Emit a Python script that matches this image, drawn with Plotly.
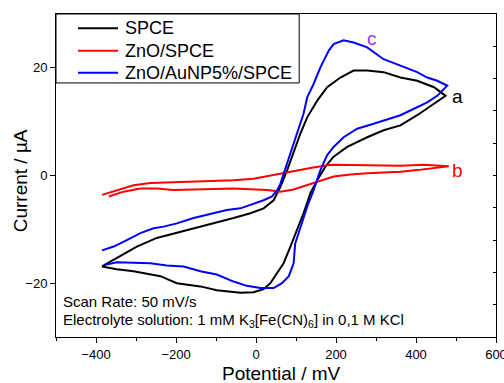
import plotly.graph_objects as go

# SPCE (a)
spce_x = [-385, -348, -306, -239, -198, -139, -98, -39, -6, 19, 36, 53, 69, 86, 103, 119, 136, 153, 173, 194, 228, 278, 319, 361, 403, 445, 474,
          445, 403, 361, 319, 278, 244, 211, 178, 153, 128, 111, 94, 78, 61, 44, 19, -14, -56, -123, -181, -248, -298, -348, -385]
spce_y = [-16.9, -17.4, -17.8, -18.7, -20.0, -20.6, -21.3, -21.8, -21.7, -21.1, -20.0, -18.1, -16.3, -13.2, -10.1, -7.0, -3.3, -0.9, 1.6, 3.5, 5.3, 7.1, 8.4, 9.3, 11.2, 13.3, 14.8,
          16.4, 17.6, 18.2, 19.2, 19.5, 19.5, 18.2, 16.4, 13.9, 10.8, 7.8, 4.1, 1.0, -2.1, -4.6, -6.1, -7.0, -7.9, -9.2, -10.4, -11.6, -13.2, -15.3, -16.9]

# ZnO/SPCE (b)
zno_x = [-385, -348, -306, -264, -181, -98, -56, -6, 44, 94, 136, 178, 194, 278, 361, 420, 482,
         403, 361, 278, 236, 194, 161, 128, 94, 61, 28, -56, -139, -206, -248, -289, -331, -368]
zno_y = [-3.6, -2.7, -1.8, -1.4, -1.2, -1.0, -0.9, -0.6, 0.1, 0.9, 1.4, 1.9, 2.0, 1.9, 1.8, 2.0, 1.7,
         1.0, 0.7, 0.4, 0.2, -0.2, -1.0, -1.8, -2.6, -3.0, -2.7, -2.4, -2.6, -2.7, -2.4, -2.4, -3.0, -3.9]

# ZnO/AuNP5%/SPCE (c)
au_x = [-377, -348, -264, -223, -181, -139, -98, -56, -23, 11, 44, 65, 82, 94, 98, 111, 128, 144, 161, 178, 194, 219, 253, 294, 319, 361, 395, 428, 453, 474, 478,
        453, 428, 403, 361, 319, 278, 244, 219, 194, 182, 161, 144, 128, 119, 103, 86, 73, 61, 53, 40, 19, -6, -39, -73, -106, -156, -198, -231, -256, -289, -323, -356, -385]
au_y = [-16.6, -16.1, -16.3, -16.7, -16.9, -17.8, -18.4, -19.7, -20.5, -20.9, -20.9, -20.0, -18.7, -16.3, -12.6, -9.5, -5.8, -2.7, 1.0, 3.8, 5.3, 7.1, 8.7, 9.6, 10.2, 11.2, 12.4, 13.6, 14.8, 16.3, 16.7,
        17.6, 18.2, 19.2, 20.4, 21.6, 23.8, 24.7, 25.1, 24.4, 23.2, 20.1, 17.0, 14.5, 11.5, 7.8, 4.1, 1.0, -1.5, -2.7, -3.9, -4.6, -5.2, -6.1, -6.4, -7.0, -7.9, -8.9, -9.5, -9.8, -10.7, -12.0, -13.2, -13.9]

series_names = ["SPCE", "ZnO/SPCE", "ZnO/AuNP5%/SPCE"]
series_colors = ["#000000", "#ff0000", "#0000ff"]

FONT = "Liberation Sans, Arial, sans-serif"

fig = go.Figure()
for name, xs, ys, col in zip(series_names, [spce_x, zno_x, au_x], [spce_y, zno_y, au_y], series_colors):
    fig.add_trace(go.Scatter(x=xs, y=ys, mode="lines", name=name,
                             line=dict(color=col, width=2), showlegend=False))

# right-side inner ticks
fig.add_trace(go.Scatter(x=[None], y=[None], yaxis="y2", showlegend=False, hoverinfo="skip"))

# custom legend (box, sample lines, labels) in paper coordinates
shapes = [dict(type="rect", xref="paper", yref="paper", x0=0, x1=0.5527, y0=0.7866, y1=1,
               line=dict(color="black", width=1), fillcolor="white", layer="above")]
annotations = []
row_y = [0.9557, 0.8864, 0.8184]
for name, col, ry in zip(series_names, series_colors, row_y):
    shapes.append(dict(type="line", xref="paper", yref="paper", x0=0.05, x1=0.141, y0=ry, y1=ry,
                       line=dict(color=col, width=2), layer="above"))
    annotations.append(dict(xref="paper", yref="paper", x=0.152, y=ry, text=name, showarrow=False,
                            xanchor="left", yanchor="middle", font=dict(size=18)))

annotations += [
    dict(x=290, y=25.4, text="c", showarrow=False, font=dict(size=19, color="#9933ff")),
    dict(x=503, y=14.7, text="a", showarrow=False, font=dict(size=19, color="black")),
    dict(x=504, y=1.0, text="b", showarrow=False, font=dict(size=19, color="#ff0000")),
    dict(x=-488, y=-23.4, text="Scan Rate: 50 mV/s", showarrow=False, xanchor="left",
         font=dict(size=15)),
    dict(x=-488, y=-26.9, text="Electrolyte solution: 1 mM K<sub>3</sub>[Fe(CN)<sub>6</sub>] in 0,1 M KCl",
         showarrow=False, xanchor="left", font=dict(size=15)),
    dict(xref="paper", yref="paper", x=-0.082, y=0.485, text="Current / µA", textangle=-90,
         showarrow=False, xanchor="center", yanchor="middle", font=dict(size=19)),
    dict(xref="paper", yref="paper", x=0.512, y=-0.112, text="Potential / mV",
         showarrow=False, xanchor="center", yanchor="middle", font=dict(size=19)),
]

fig.update_layout(
    width=504, height=383,
    margin=dict(l=56, r=8, t=14, b=46, autoexpand=False),
    paper_bgcolor="white", plot_bgcolor="white",
    font=dict(family=FONT, color="black"),
    showlegend=False,
    xaxis=dict(range=[-500, 600], dtick=200, tick0=0, showgrid=False, zeroline=False,
               showline=True, linecolor="black", linewidth=1, mirror=True,
               ticks="outside", ticklen=5, tickcolor="black", automargin=False,
               minor=dict(dtick=100, ticks="outside", ticklen=3, tickcolor="black"),
               tickfont=dict(size=13), ticklabeloverflow="allow"),
    yaxis=dict(range=[-30, 30], dtick=20, tick0=0, showgrid=False, zeroline=False,
               showline=True, linecolor="black", linewidth=1, mirror=True,
               ticks="outside", ticklen=5, tickcolor="black", automargin=False,
               tickfont=dict(size=13)),
    yaxis2=dict(range=[-30, 30], dtick=6, tick0=0, overlaying="y", side="right",
                showgrid=False, zeroline=False, showline=False, automargin=False,
                ticks="inside", ticklen=3, tickcolor="black", showticklabels=False),
    shapes=shapes,
    annotations=annotations,
)

fig.write_html("out.html")
